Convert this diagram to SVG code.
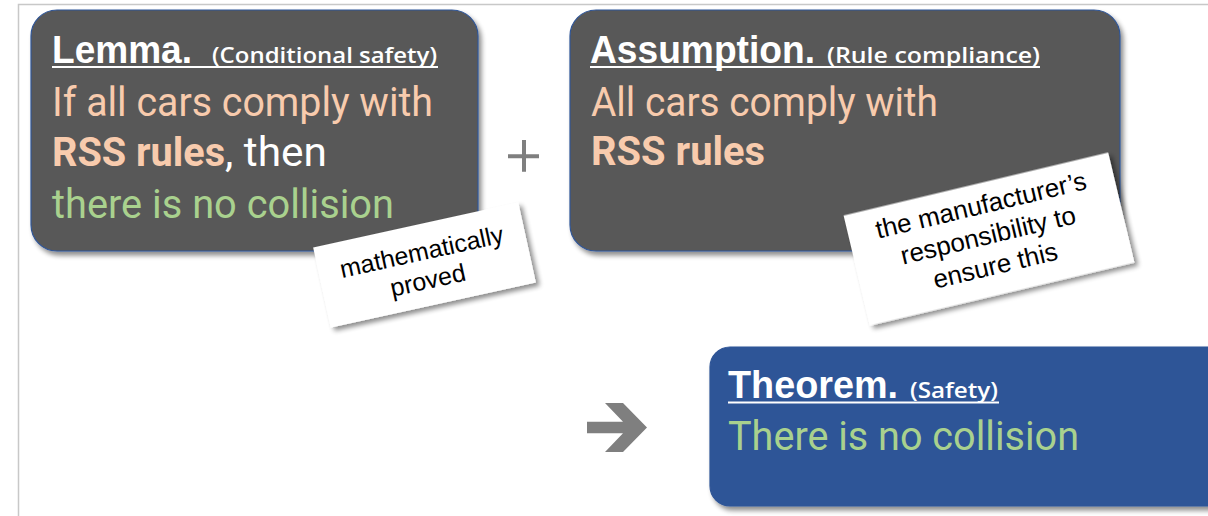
<svg xmlns="http://www.w3.org/2000/svg" width="1208" height="516" viewBox="0 0 1208 516">
  <defs>
    <filter id="shadow" x="-10%" y="-10%" width="125%" height="130%">
      <feGaussianBlur in="SourceAlpha" stdDeviation="2.5"/>
      <feOffset dx="3" dy="4" result="b"/>
      <feComponentTransfer><feFuncA type="linear" slope="0.45"/></feComponentTransfer>
      <feMerge><feMergeNode/><feMergeNode in="SourceGraphic"/></feMerge>
    </filter>
    <style>
      .frame { fill: none; stroke: #c8c8c8; stroke-width: 1.5; }
      .dark { fill: #595959; stroke: #2f5597; stroke-width: 1.2; }
      .blue { fill: #2f5597; stroke: #2f5597; stroke-width: 1.2; }
      .note { fill: #ffffff; }
      .rule { stroke: #ffffff; stroke-width: 2; }
      .head { font-family: "Liberation Sans", Arial, sans-serif; font-size: 38px; font-weight: bold; fill: #ffffff; }
      .sub { font-family: "Open Sans", "Liberation Sans", sans-serif; font-size: 22px; font-weight: 600; fill: #ffffff; }
      .body { font-family: Roboto, "Liberation Sans", sans-serif; font-size: 40px; font-weight: 400; }
      .peach { fill: #f8cbad; }
      .white { fill: #ffffff; }
      .green { fill: #a9d18e; }
      .strong { font-weight: bold; }
      .notetext { font-family: "Liberation Sans", Arial, sans-serif; font-size: 25px; fill: #000000; text-anchor: middle; }
      .op { fill: #7f7f7f; }
    </style>
  </defs>

  <rect width="1208" height="516" fill="#ffffff"/>
  <!-- slide frame -->
  <path class="frame" d="M18.5 516 V4.5 H1208"/>

  <!-- Lemma -->
  <g id="lemma">
    <rect class="dark" x="31" y="10" width="447" height="241" rx="26" filter="url(#shadow)"/>
    <text class="head" x="52" y="63" textLength="140" lengthAdjust="spacingAndGlyphs">Lemma.</text>
    <text class="sub" x="212" y="63" textLength="225" lengthAdjust="spacingAndGlyphs">(Conditional safety)</text>
    <line class="rule" x1="52" y1="67" x2="438" y2="67"/>
    <text class="body peach" x="52" y="116" textLength="381" lengthAdjust="spacingAndGlyphs">If all cars comply with</text>
    <text class="body peach strong" x="52" y="166" textLength="173" lengthAdjust="spacingAndGlyphs">RSS rules</text>
    <text class="body white" x="225" y="166" textLength="102" lengthAdjust="spacingAndGlyphs">, then</text>
    <text class="body green" x="52" y="218" textLength="342" lengthAdjust="spacingAndGlyphs">there is no collision</text>
  </g>

  <!-- Assumption -->
  <g id="assumption">
    <rect class="dark" x="570" y="10" width="550" height="241" rx="26" filter="url(#shadow)"/>
    <text class="head" x="590" y="63" textLength="225" lengthAdjust="spacingAndGlyphs">Assumption.</text>
    <text class="sub" x="827" y="63" textLength="213" lengthAdjust="spacingAndGlyphs">(Rule compliance)</text>
    <line class="rule" x1="590" y1="67" x2="1040" y2="67"/>
    <text class="body peach" x="591" y="116" textLength="347" lengthAdjust="spacingAndGlyphs">All cars comply with</text>
    <text class="body peach strong" x="591" y="165" textLength="174" lengthAdjust="spacingAndGlyphs">RSS rules</text>
  </g>

  <!-- Theorem -->
  <g id="theorem">
    <rect class="blue" x="710" y="347" width="520" height="159" rx="20" filter="url(#shadow)"/>
    <text class="head" x="728" y="398" textLength="170" lengthAdjust="spacingAndGlyphs">Theorem.</text>
    <text class="sub" x="910" y="398" textLength="88" lengthAdjust="spacingAndGlyphs">(Safety)</text>
    <line class="rule" x1="728" y1="402.5" x2="999" y2="402.5"/>
    <text class="body green" x="728" y="450" textLength="351" lengthAdjust="spacingAndGlyphs">There is no collision</text>
  </g>

  <!-- annotation notes -->
  <g id="note-proved" transform="translate(424.5 265) rotate(-12.4)">
    <rect class="note" x="-105" y="-41" width="210" height="82" filter="url(#shadow)"/>
    <text class="notetext" x="0" y="-5">mathematically</text>
    <text class="notetext" x="0" y="24">proved</text>
  </g>
  <g id="note-responsibility" transform="translate(989 239) rotate(-13.4)">
    <rect class="note" x="-136" y="-56.5" width="272" height="113" filter="url(#shadow)"/>
    <text class="notetext" x="0" y="-26" style="font-size:26px">the manufacturer’s</text>
    <text class="notetext" x="0" y="5" style="font-size:26px">responsibility to</text>
    <text class="notetext" x="0" y="36" style="font-size:26px">ensure this</text>
  </g>

  <!-- operators between the statements -->
  <g id="connectors">
    <path class="op" d="M522 140 h4 v14.3 h13 v4 h-13 v13.4 h-4 v-13.4 h-14 v-4 h14 z"/>
    <path class="op" d="M587 421.7 H623 L605 403 H623 L647 427.5 L623 452 H605 L623 433.3 H587 Z"/>
  </g>
</svg>
